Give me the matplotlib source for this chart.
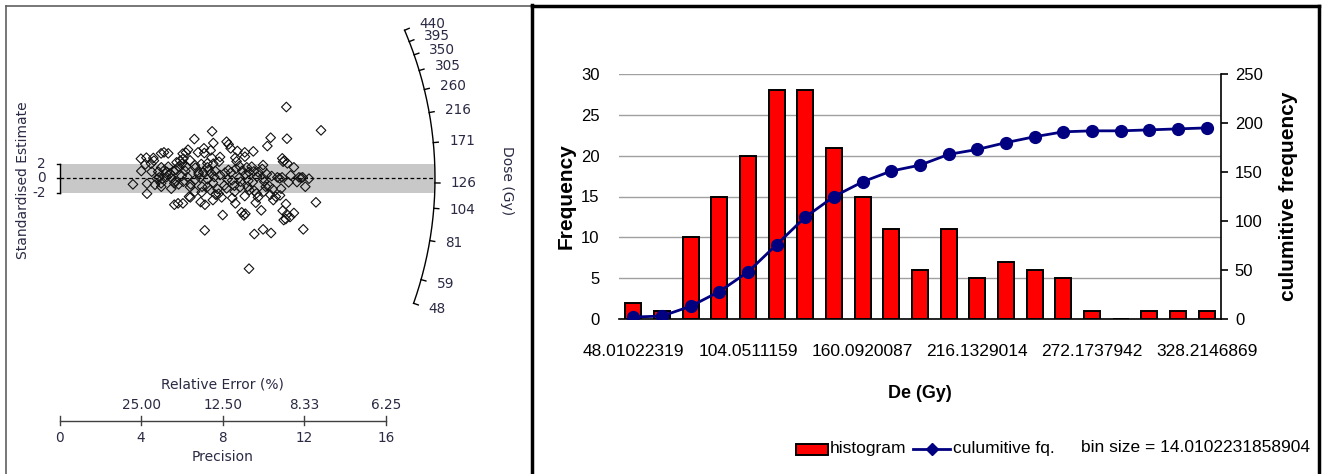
import numpy as np
import matplotlib
matplotlib.use('Agg')
import matplotlib.pyplot as plt
from matplotlib.lines import Line2D
from matplotlib.patches import Rectangle

W, H, DPI = 1324, 474, 100

# ---------------- data: radial plot ----------------
precision = [11.12, 12.82, 7.48, 11.15, 10.35, 6.61, 8.19, 7.54, 8.29, 8.39, 10.19, 9.50, 9.08, 8.72, 9.09, 7.41,
             7.08, 6.79, 7.10, 6.30, 6.20, 6.04, 6.07, 5.91, 5.74, 6.40, 7.87, 7.46, 7.82, 7.54, 7.25, 7.25, 6.95,
             6.63, 6.66, 6.82, 8.62, 8.68, 8.82, 8.65, 8.96, 8.80, 9.13, 9.29, 9.53, 9.73, 9.98, 9.94, 9.68, 9.98,
             10.04, 10.92, 11.02, 11.17, 10.96, 11.49, 11.33, 10.91, 10.79, 10.68, 11.74, 11.92, 12.23, 11.64, 12.05,
             11.84, 3.99, 4.26, 4.60, 4.98, 5.12, 5.33, 4.01, 4.21, 4.49, 4.63, 4.52, 4.99, 5.14, 5.27, 4.89, 4.78,
             5.04, 5.25, 3.60, 4.29, 4.29, 4.68, 4.98, 4.99, 5.48, 5.63, 5.69, 5.84, 5.71, 5.60, 5.84, 6.00, 6.17,
             6.27, 6.43, 6.40, 6.64, 6.82, 6.99, 6.97, 7.26, 7.26, 7.43, 7.64, 7.52, 7.59, 7.75, 7.39, 7.52, 7.13,
             6.92, 7.80, 7.66, 8.08, 8.23, 8.41, 8.46, 8.57, 8.59, 8.47, 8.62, 8.85, 8.88, 9.26, 9.22, 9.47, 9.31,
             9.08, 9.55, 9.66, 9.73, 9.62, 10.01, 10.11, 10.27, 10.33, 10.45, 10.60, 10.48, 10.86, 10.81, 11.10,
             11.23, 10.94, 11.15, 11.30, 11.49, 10.99, 11.09, 12.57, 8.00, 8.93, 9.11, 9.04, 9.89, 6.35, 6.41, 6.05,
             5.81, 5.63, 7.12, 9.55, 9.98, 10.37, 11.95, 9.29, 5.42, 5.50, 5.99, 6.20, 6.89, 7.05, 7.30, 7.87, 8.11,
             8.28, 9.18, 9.42, 10.16, 10.40, 8.19, 7.95, 6.64, 6.07, 5.33, 4.84]
std_est = [9.90, 6.66, 6.52, 5.50, 5.64, 5.45, 5.08, 4.90, 4.71, 4.16, 4.48, 3.74, 3.60, 3.79, 3.00, 3.88, 4.16,
           3.60, 3.51, 3.97, 3.56, 3.42, 2.72, 2.45, 2.21, 2.49, 2.96, 2.86, 2.31, 2.03, 2.08, 1.52, 1.98, 1.84,
           1.47, 0.83, 2.86, 2.35, 1.70, 1.33, 1.06, 0.04, 0.55, 0.87, 0.96, 0.87, 1.84, 1.29, 0.22, -0.01, -0.47,
           2.77, 2.45, 2.08, 2.31, 1.52, 0.41, 0.13, -0.01, 0.13, 0.13, 0.13, -0.05, -0.52, -1.17, 0.08, 2.72, 2.86,
           2.82, 3.46, 3.60, 3.46, 1.01, 1.94, 2.03, 2.45, 0.92, 1.52, 1.15, 0.87, 0.13, -0.05, -0.10, 0.18, -0.84,
           -0.75, -2.14, -0.89, -0.70, -1.17, -1.44, -0.70, -0.38, -0.84, 1.15, 1.01, 1.61, 2.03, 1.01, 0.18, -0.84,
           -1.21, -0.24, 0.59, -1.17, -1.95, -1.17, -0.15, 0.69, 1.01, -0.61, 0.18, -1.49, -1.63, -3.02, -3.67,
           -3.30, -2.14, -2.28, -0.98, -0.15, 0.83, -0.29, -1.03, -1.86, -2.74, -3.48, -1.21, -0.47, -0.33, -1.17,
           -0.52, -1.63, -2.46, -1.72, -2.09, -2.65, -3.39, -1.86, -1.17, -1.03, -2.28, -1.49, -2.55, -3.02, -1.44,
           -2.37, -3.57, -0.56, -4.50, -5.01, -5.38, -4.82, -5.80, -5.66, -3.34, -5.10, -4.73, -4.92, -5.15, -4.45,
           -2.55, -2.65, -3.48, -3.48, -3.67, -7.23, -7.74, -7.09, -7.60, -7.09, -12.55, 0.69, -0.01, 0.31, 1.61,
           0.08, 0.83, 1.15, 0.45, 0.78, 1.15, 1.52, 1.61, 0.59, 0.31, -1.40, -2.65, -1.86, -0.47, 1.61, 0.92]
dose_ticks = [440, 395, 350, 305, 260, 216, 171, 126, 104, 81, 59, 48]
central_dose = 130.5
std_ticks = [2, 0, -2]
precision_ticks = [0, 4, 8, 12, 16]
rel_error_ticks = [4, 8, 12, 16]
rel_error_labels = ['25.00', '12.50', '8.33', '6.25']

# ---------------- data: histogram ----------------
counts = [2, 1, 10, 15, 20, 28, 28, 21, 15, 11, 6, 11, 5, 7, 6, 5, 1, 0, 1, 1, 1]
cumulative = [2, 3, 13, 28, 48, 76, 104, 125, 140, 151, 157, 168, 173, 180, 186, 191, 192, 192, 193, 194, 195]
xtick_labels = ['48.01022319', '104.0511159', '160.0920087', '216.1329014', '272.1737942', '328.2146869']
bin_size_text = 'bin size = 14.0102231858904'

# ---------------- figure ----------------
fig = plt.figure(figsize=(W / DPI, H / DPI), dpi=DPI)
fig.patch.set_facecolor('white')

TXT = '#2a2a44'
VF = 'DejaVu Sans'
AF = 'Liberation Sans'

# radial plot axes covering left panel; data units: precision (x), standardised estimate (y)
X0, PXU = 59.5, 20.4     # pixel column of precision 0, pixels per precision unit
Y0, PYU = 178.3, 7.2     # pixel row of estimate 0, pixels per estimate unit
LW_PX = 530
axL = fig.add_axes([0, 0, LW_PX / W, 1])
axL.set_xlim(-X0 / PXU, (LW_PX - X0) / PXU)
axL.set_ylim((Y0 - H) / PYU, Y0 / PYU)
axL.axis('off')

def ypx(row):
    return (Y0 - row) / PYU

R = 375.5
z0 = np.log(central_dose)
k = PYU / PXU

axL.add_patch(Rectangle((0, -2), R / PXU, 4, facecolor='#c8c8c8', edgecolor='none', zorder=1))
axL.plot([0, R / PXU], [0, 0], ls=(0, (3, 2)), color='black', lw=0.9, zorder=2)
axL.scatter(precision, std_est, marker='D', s=24, facecolors='none', edgecolors='#111111',
            linewidths=0.8, zorder=3)

# dose arc
th_hi = np.arctan(k * (np.log(max(dose_ticks)) - z0))
th_lo = np.arctan(k * (np.log(min(dose_ticks)) - z0))
th = np.linspace(th_lo, th_hi, 200)
axL.plot(R * np.cos(th) / PXU, R * np.sin(th) / PYU, color='black', lw=1.0, zorder=4)
for d in dose_ticks:
    t = np.arctan(k * (np.log(d) - z0))
    c, s_ = np.cos(t), np.sin(t)
    axL.plot([R * c / PXU, (R + 5) * c / PXU], [R * s_ / PYU, (R + 5) * s_ / PYU], color='black', lw=1.0)
    axL.text((R + 16) * c / PXU, (R + 16) * s_ / PYU, str(d), ha='left', va='center',
             fontsize=9.8, family=VF, color=TXT)
fig.text(507 / W, 1 - 181 / H, 'Dose (Gy)', rotation=-90, ha='center', va='center',
         fontsize=10, family=VF, color=TXT)

# standardised estimate axis
xa = 0.5 / PXU
axL.plot([xa, xa], [-2, 2], color='black', lw=1.0)
for v in std_ticks:
    axL.plot([xa - 3 / PXU, xa], [v, v], color='black', lw=1.0)
    axL.text(xa - 14 / PXU, v, str(v), ha='right', va='center', fontsize=9.8, family=VF, color=TXT)
fig.text(22.6 / W, 1 - 180.5 / H, 'Standardised Estimate', rotation=90, ha='center', va='center',
         fontsize=10, family=VF, color=TXT)

# precision axis
yp = ypx(420.6)
axL.plot([0, max(precision_ticks)], [yp, yp], color='#404040', lw=1.0)
for v in precision_ticks:
    axL.plot([v, v], [yp + 5 / PYU, yp - 4 / PYU], color='#404040', lw=1.0)
    axL.text(v, ypx(437.5), str(v), ha='center', va='center', fontsize=9.8, family=VF, color=TXT)
for v, lab in zip(rel_error_ticks, rel_error_labels):
    axL.text(v, ypx(404.7), lab, ha='center', va='center', fontsize=9.8, family=VF, color=TXT)
axL.text(8, ypx(384.5), 'Relative Error (%)', ha='center', va='center', fontsize=10, family=VF, color=TXT)
axL.text(8, ypx(457), 'Precision', ha='center', va='center', fontsize=10, family=VF, color=TXT)

# ---------------- histogram panel ----------------
axR = fig.add_axes([619 / W, 1 - 319 / H, (1221 - 619) / W, (319 - 74) / H])
xs = np.arange(len(counts))
axR.bar(xs, counts, width=0.56, color='#ff0000', edgecolor='black', linewidth=1.4, zorder=3)
axR.set_xlim(-0.5, len(counts) - 0.5)
axR.set_ylim(0, 30)
axR.set_yticks(range(0, 31, 5))
axR.yaxis.grid(True, color='#a0a0a0', lw=1.0)
axR.set_axisbelow(True)
for sp in ['left', 'top', 'right']:
    axR.spines[sp].set_visible(False)
axR.spines['bottom'].set_color('black')
axR.spines['bottom'].set_linewidth(1.2)
axR.set_xticks(xs[::4])
axR.set_xticklabels(xtick_labels, family=AF, fontsize=12.5)
axR.tick_params(axis='x', length=0, pad=18)
axR.tick_params(axis='y', length=0, pad=14, labelsize=12)
for lab in axR.get_yticklabels():
    lab.set_family(AF)
axR.set_ylabel('Frequency', family=AF, fontweight='bold', fontsize=15, labelpad=4)

ax2 = axR.twinx()
ax2.plot(xs, cumulative, color='#000080', lw=2.0, marker='o', ms=8.5, zorder=5)
ax2.set_ylim(0, 250)
ax2.set_yticks(range(0, 251, 50))
for sp in ['left', 'top', 'bottom']:
    ax2.spines[sp].set_visible(False)
ax2.spines['right'].set_color('black')
ax2.spines['right'].set_linewidth(1.2)
ax2.tick_params(axis='y', direction='out', length=5, width=1.2, pad=5, labelsize=12)
for lab in ax2.get_yticklabels():
    lab.set_family(AF)
ax2.set_ylabel('culumitive frequency', family=AF, fontweight='bold', fontsize=15, labelpad=12)

fig.text(920 / W, 1 - 393 / H, 'De (Gy)', ha='center', va='center', family=AF, fontweight='bold', fontsize=13)

# legend row
fig.patches.append(Rectangle((796 / W, 1 - 455 / H), 32 / W, 11 / H, transform=fig.transFigure,
                             facecolor='#ff0000', edgecolor='black', lw=1.4))
fig.text(830 / W, 1 - 449 / H, 'histogram', ha='left', va='center', family=AF, fontsize=12.5)
fig.lines.append(Line2D([913 / W, 950 / W], [1 - 449 / H, 1 - 449 / H], transform=fig.transFigure,
                        color='#000080', lw=2.0))
fig.lines.append(Line2D([931.5 / W], [1 - 449 / H], transform=fig.transFigure, color='#000080',
                        marker='D', ms=6, lw=0))
fig.text(953 / W, 1 - 449 / H, 'culumitive fq.', ha='left', va='center', family=AF, fontsize=12.5)
fig.text(1081 / W, 1 - 447 / H, bin_size_text, ha='left', va='center', family=AF, fontsize=12.5)

# panel frames
def fline(x, y, **kw):
    fig.lines.append(Line2D([v / W for v in x], [1 - v / H for v in y], transform=fig.transFigure, **kw))

fline([5.5, 5.5], [5.5, 474], color='#606060', lw=1.2)
fline([5.5, 531], [5.5, 5.5], color='#606060', lw=1.2)
fline([531.5, 531.5], [5, 474], color='black', lw=2.5)
fline([531.5, 1318.5], [6, 6], color='black', lw=2.5)
fline([1318.5, 1318.5], [6, 474], color='black', lw=2.5)

fig.savefig('out.png', dpi=DPI)
